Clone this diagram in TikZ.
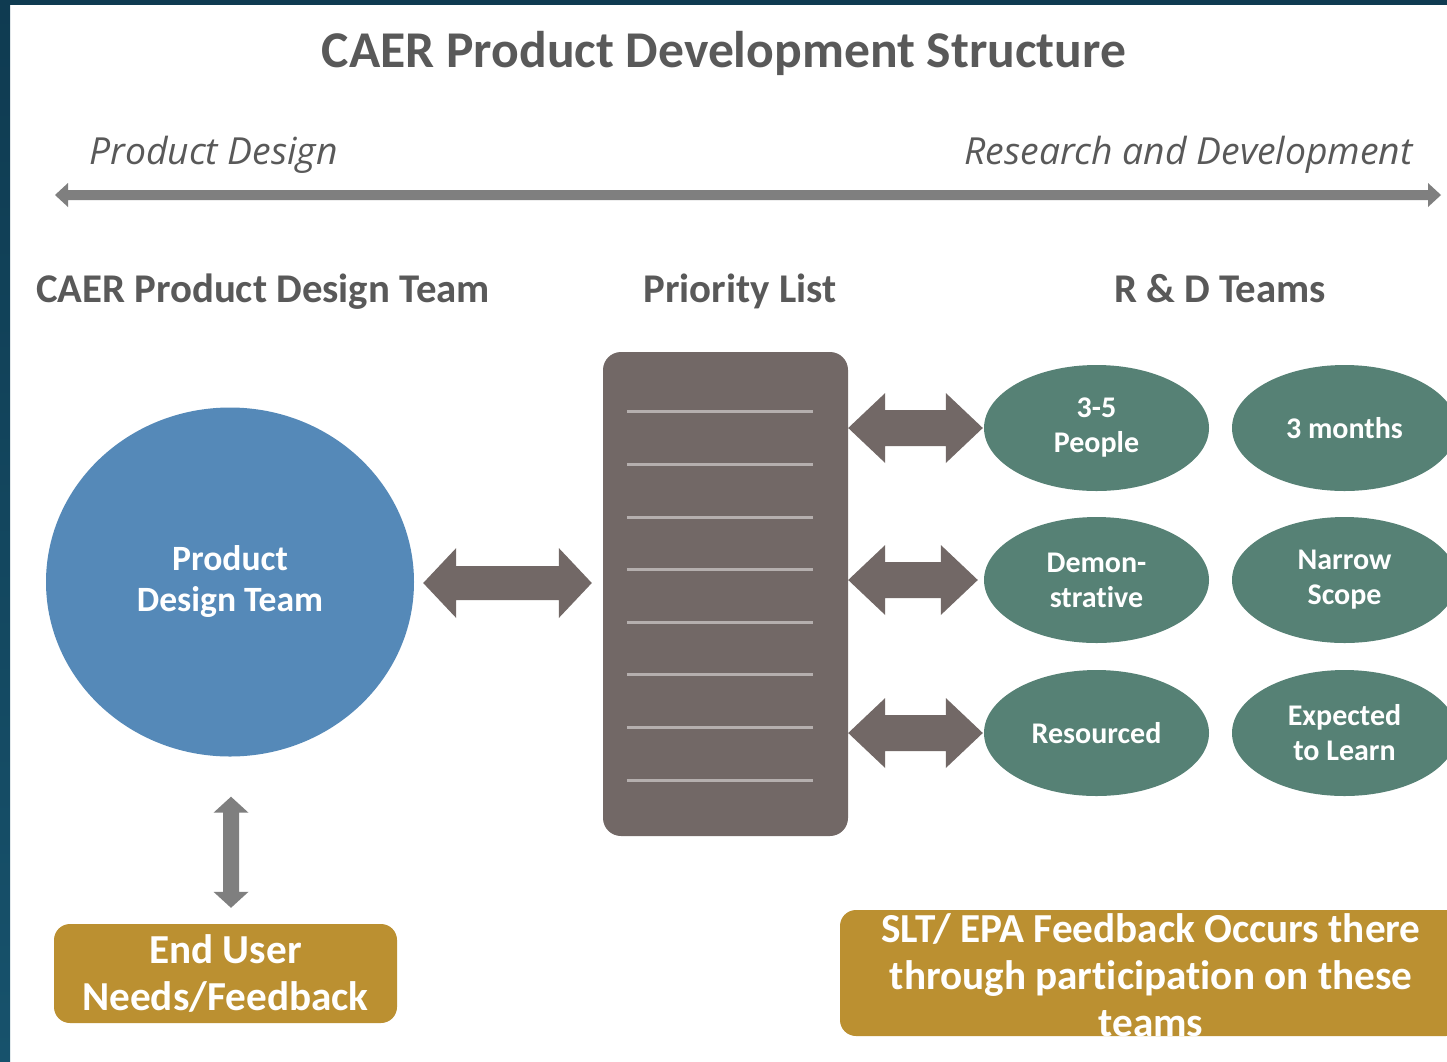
\documentclass[tikz,border=0pt]{standalone}
\usepackage{fontspec}
\setmainfont{Carlito}[Ligatures={NoCommon}]
\newfontfamily\osit{Open Sans}
\usetikzlibrary{calc,shapes.geometric}
\definecolor{frametop}{HTML}{0F3B51}
\definecolor{framebot}{HTML}{17526C}
\definecolor{titlegray}{HTML}{595959}
\definecolor{axisgray}{HTML}{7F7F7F}
\definecolor{bluec}{HTML}{5589B8}
\definecolor{listc}{HTML}{726866}
\definecolor{linec}{HTML}{B5AFAE}
\definecolor{greenc}{HTML}{568175}
\definecolor{goldc}{HTML}{BB9031}
\newcommand\fsz[2]{\fontsize{#1}{#2}\selectfont}
% horizontal double block arrow: from, to, head length, half head, half shaft, colour
\newcommand\harrow[6]{%
  \fill[#6] let \p1=(#1), \p2=(#2) in
    (\x1,\y1) -- (\x1+#3pt,\y1+#4pt) -- (\x1+#3pt,\y1+#5pt) -- (\x2-#3pt,\y1+#5pt)
    -- (\x2-#3pt,\y1+#4pt) -- (\x2,\y1) -- (\x2-#3pt,\y1-#4pt) -- (\x2-#3pt,\y1-#5pt)
    -- (\x1+#3pt,\y1-#5pt) -- (\x1+#3pt,\y1-#4pt) -- cycle;}
% vertical double block arrow: top, bottom, head length, half head, half shaft, colour
\newcommand\varrow[6]{%
  \fill[#6] let \p1=(#1), \p2=(#2) in
    (\x1,\y1) -- (\x1+#4pt,\y1-#3pt) -- (\x1+#5pt,\y1-#3pt) -- (\x1+#5pt,\y2+#3pt)
    -- (\x1+#4pt,\y2+#3pt) -- (\x1,\y2) -- (\x1-#4pt,\y2+#3pt) -- (\x1-#5pt,\y2+#3pt)
    -- (\x1-#5pt,\y1-#3pt) -- (\x1-#4pt,\y1-#3pt) -- cycle;}
\begin{document}
\begin{tikzpicture}[x=1pt,y=-1pt,
  titletext/.style={font=\bfseries\fsz{51.6}{60}, text=titlegray, inner sep=0pt},
  headtext/.style={font=\bfseries\fsz{40.8}{48}, text=titlegray, inner sep=0pt},
  ittext/.style={font=\osit\itshape\fsz{37.3}{44}, text=titlegray, inner sep=0pt},
  bigcircle/.style={ellipse, fill=bluec, minimum width=368pt, minimum height=349pt, inner sep=0pt,
     text=white, font=\bfseries\fsz{35.6}{41}, align=center},
  listbox/.style={rectangle, rounded corners=18pt, fill=listc, minimum width=245pt, minimum height=484pt},
  teamoval/.style={ellipse, fill=greenc, minimum width=225pt, minimum height=126pt, inner sep=0pt,
     text=white, font=\bfseries\fsz{30}{35}, align=center},
  goldbox/.style={rectangle, rounded corners=16pt, fill=goldc, inner sep=0pt},
  goldtext/.style={text=white, font=\bfseries\fsz{41.2}{47}, align=center, inner sep=0pt}]
\useasboundingbox (0,0) rectangle (1447,1061);
\clip (0,0) rectangle (1447,1061);
\fill[white] (0,0) rectangle (1447,1061);
\shade[top color=frametop, bottom color=framebot] (0,0) rectangle (10,1061);
\fill[frametop] (0,0) rectangle (1447,5);

% titles
\node[titletext, anchor=base] (title) at (724,67) {CAER Product Development Structure};
\node[ittext, anchor=base west] (pd) at (89,164) {Product Design};
\node[ittext, anchor=base east] (rd) at (1413,164) {Research and Development};
\coordinate (axL) at (55,195);
\coordinate (axR) at (1441,195);
\harrow{axL}{axR}{13}{12}{5}{axisgray}

\node[headtext, anchor=base] (h1) at (263,302) {CAER Product Design Team};
\node[headtext, anchor=base] (h2) at (740,302) {Priority List};
\node[headtext, anchor=base] (h3) at (1220,302) {R \& D Teams};

% main shapes
\node[bigcircle] (pdt) at (230,582) {Product\\Design Team};
\node[listbox] (plist) at (725.5,594) {};
\foreach \i in {0,...,7}
  \draw[linec, line width=3pt] ($(plist.north west)+(24,{60+52.6*\i})$) -- ++(186,0);

\node[teamoval] (t11) at (1096.5,428) {3-5\\People};
\node[teamoval] (t12) at (1344.5,428) {3 months};
\node[teamoval] (t21) at (1096.5,580) {Demon-\\strative};
\node[teamoval] (t22) at (1344.5,580) {Narrow\\Scope};
\node[teamoval] (t31) at (1096.5,733) {Resourced};
\node[teamoval] (t32) at (1344.5,733) {Expected\\to Learn};

\node[goldbox, minimum width=343pt, minimum height=99pt] (eu) at (225.5,973.5) {};
\node[goldtext] (eut) at (eu.center) {End User\\Needs/Feedback};
\node[goldbox, minimum width=622pt, minimum height=126pt] (slt) at (1151,973) {};
\node[goldtext] (sltt) at ($(slt.center)+(0,2)$) {SLT/ EPA Feedback Occurs there\\through participation on these\\teams};

% connectors
\coordinate (la) at ($(pdt.east)+(9,1)$);
\coordinate (lb) at ($(plist.west |- la)+(-11,0)$);
\harrow{la}{lb}{33}{35}{17}{listc}
\coordinate (r1a) at (plist.east |- t11.west);
\coordinate (r1b) at ($(t11.west)+(-1,0)$);
\harrow{r1a}{r1b}{37}{35}{18}{listc}
\coordinate (r2a) at (plist.east |- t21.west);
\coordinate (r2b) at ($(t21.west)+(-6,0)$);
\harrow{r2a}{r2b}{37}{35}{18}{listc}
\coordinate (r3a) at (plist.east |- t31.west);
\coordinate (r3b) at ($(t31.west)+(-1,0)$);
\harrow{r3a}{r3b}{37}{35}{18}{listc}
\coordinate (va) at ($(pdt.south)+(1,40)$);
\coordinate (vb) at ($(eu.north -| va)+(0,-16)$);
\varrow{va}{vb}{16}{17.5}{8}{axisgray}
\end{tikzpicture}
\end{document}
